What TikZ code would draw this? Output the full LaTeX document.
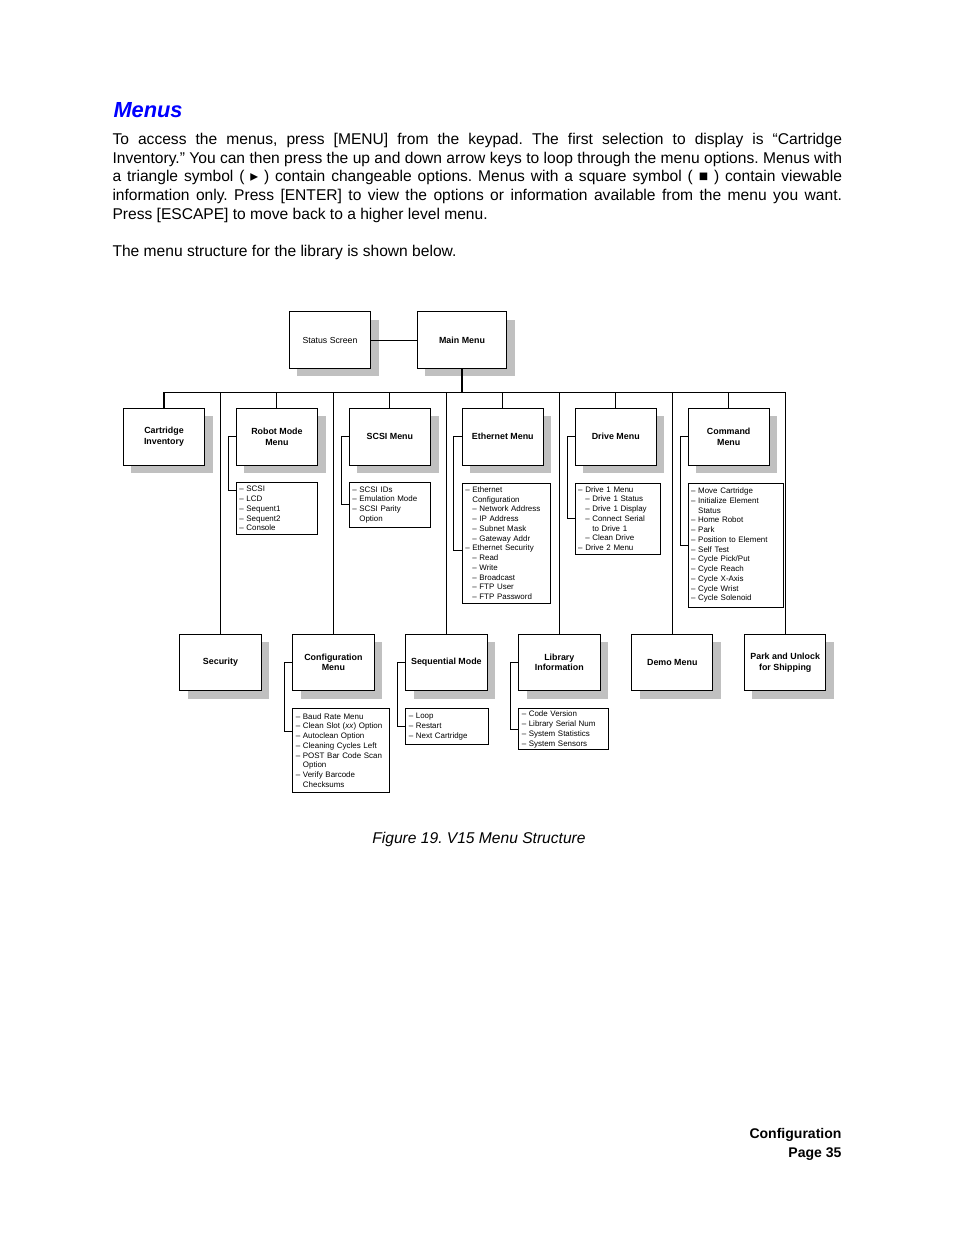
\documentclass[tikz,border=0pt]{standalone}
\usepackage{fontspec}
\setmainfont{Liberation Sans}
\newfontfamily\symfont{DejaVu Sans}
\usetikzlibrary{positioning,shadows}
\definecolor{titleblue}{RGB}{0,0,255}
\definecolor{shadowgray}{RGB}{192,192,192}
\newcommand{\optdash}{–\ }
\newcommand{\optgap}{\hphantom{–\ }}
\frenchspacing

\begin{document}
\begin{tikzpicture}[x=0.6415pt,y=-0.6415pt,
  line width=0.65pt,
  node distance=19.6pt,
  menubox/.style={draw,fill=white,minimum width=52.2pt,minimum height=36.4pt,
    align=center,inner sep=1pt,font=\fontsize{5.7}{6.8}\selectfont\bfseries,
    drop shadow={shadow xshift=5.1pt,shadow yshift=-5.1pt,opacity=1,fill=shadowgray}},
  optlist/.style={draw,fill=white,align=left,inner xsep=2pt,inner ysep=0pt,
    font=\fontsize{5.1}{6.25}\selectfont},
  pagetext/.style={inner sep=0pt,font=\fontsize{10}{12}\selectfont}
]
\useasboundingbox (0,0) rectangle (954,1235);

% page text
\node[pagetext,anchor=base west,font=\fontsize{14}{17}\selectfont\bfseries\itshape,text=titleblue] (title) at (113,117.5) {Menus};
\node[pagetext,anchor=base west,text width=468pt,align=justify] (intro) at (112,144.3) {To access the menus, press [MENU] from the keypad. The first selection to display is “Cartridge\linebreak
Inventory.” You can then press the up and down arrow keys to loop through the menu options. Menus with\linebreak
a triangle symbol ( {\symfont ▸} ) contain changeable options. Menus with a square symbol ( ■ ) contain viewable\linebreak
information only. Press [ENTER] to view the options or information available from the menu you want.\linebreak
Press [ESCAPE] to move back to a higher level menu.};
\node[pagetext,anchor=base west] (lead) at (112,256.4) {The menu structure for the library is shown below.};

% top of the tree
\node[menubox,font=\fontsize{5.6}{6.8}\selectfont] (status) at (330,340) {Status Screen};
\node[menubox,minimum width=57.4pt] (main) at (462,340) {Main Menu};

% first row
\node[menubox] (ci) at (164,436.7) {Cartridge\\Inventory};
\node[menubox,right=of ci] (robot) {Robot Mode\\Menu};
\node[menubox,right=of robot] (scsi) {SCSI Menu};
\node[menubox,right=of scsi] (eth) {Ethernet Menu};
\node[menubox,right=of eth] (drive) {Drive Menu};
\node[menubox,right=of drive] (cmd) {Command\\Menu};

% second row
\node[menubox] (sec) at (220.5,662.5) {Security};
\node[menubox,right=of sec] (conf) {Configuration\\Menu};
\node[menubox,right=of conf] (seq) {Sequential Mode};
\node[menubox,right=of seq] (lib) {Library\\Information};
\node[menubox,right=of lib] (demo) {Demo Menu};
\node[menubox,right=of demo] (park) {Park and Unlock\\for Shipping};

% option lists
\node[optlist,below=10.5pt of robot.south west,anchor=north west,text width=48.4pt,minimum height=33.6pt] (rlist) {\optdash SCSI\\\optdash LCD\\\optdash Sequent1\\\optdash Sequent2\\\optdash Console};
\node[optlist,below=10.5pt of scsi.south west,anchor=north west,text width=48.2pt,minimum height=28.7pt] (slist) {\optdash SCSI IDs\\\optdash Emulation Mode\\\optdash SCSI Parity\\\optgap Option};
\node[optlist,below=10.9pt of eth.south west,anchor=north west,text width=52.9pt,minimum height=77pt] (elist) {\optdash Ethernet\\\optgap Configuration\\\optgap\optdash Network Address\\\optgap\optdash IP Address\\\optgap\optdash Subnet Mask\\\optgap\optdash Gateway Addr\\\optdash Ethernet Security\\\optgap\optdash Read\\\optgap\optdash Write\\\optgap\optdash Broadcast\\\optgap\optdash FTP User\\\optgap\optdash FTP Password};
\node[optlist,below=10.9pt of drive.south west,anchor=north west,text width=50.7pt,minimum height=45.5pt] (dlist) {\optdash Drive 1 Menu\\\optgap\optdash Drive 1 Status\\\optgap\optdash Drive 1 Display\\\optgap\optdash Connect Serial\\\optgap\optgap to Drive 1\\\optgap\optdash Clean Drive\\\optdash Drive 2 Menu};
\node[optlist,below=10.9pt of cmd.south west,anchor=north west,text width=57.4pt,minimum height=79.7pt] (clist) {\optdash Move Cartridge\\\optdash Initialize Element\\\optgap Status\\\optdash Home Robot\\\optdash Park\\\optdash Position to Element\\\optdash Self Test\\\optdash Cycle Pick/Put\\\optdash Cycle Reach\\\optdash Cycle X-Axis\\\optdash Cycle Wrist\\\optdash Cycle Solenoid};
\node[optlist,below=10.9pt of conf.south west,anchor=north west,text width=57.8pt,minimum height=53.4pt] (flist) {\optdash Baud Rate Menu\\\optdash Clean Slot (\textit{xx}) Option\\\optdash Autoclean Option\\\optdash Cleaning Cycles Left\\\mbox{\optdash POST Bar Code Scan}\\\optgap Option\\\optdash Verify Barcode\\\optgap Checksums};
\node[optlist,below=10.9pt of seq.south west,anchor=north west,text width=49pt,minimum height=22.8pt] (qlist) {\optdash Loop\\\optdash Restart\\\optdash Next Cartridge};
\node[optlist,below=10.9pt of lib.south west,anchor=north west,text width=53.4pt,minimum height=26.3pt] (llist) {\optdash Code Version\\\optdash Library Serial Num\\\optdash System Statistics\\\optdash System Sensors};

% connectors
\coordinate (bus) at (0,392.3);
\draw (status) -- (main);
\draw (main.south) -- (main.south |- bus);
\draw (ci.north |- bus) -- (park.north |- bus);
\foreach \n in {ci,robot,scsi,eth,drive,cmd,sec,conf,seq,lib,demo,park}
  \draw (\n.north) -- (\n.north |- bus);
\draw (robot.west) -- ++(-4.8pt,0) |- ([yshift=-5.3pt]rlist.north west);
\draw (eth.west) -- ++(-5.3pt,0) |- ([yshift=-43.8pt]elist.north west);
\draw (conf.west) -- ++(-4.7pt,0) |- ([yshift=-15pt]flist.north west);
\foreach \b/\l in {scsi/slist,drive/dlist,cmd/clist,seq/qlist,lib/llist}
  \draw (\b.west) -- ++(-4.8pt,0) |- (\l.west);

% caption and footer
\node[pagetext,anchor=base,font=\fontsize{10}{12}\selectfont\itshape] (caption) at (479,843.5) {Figure 19. V15 Menu Structure};
\node[pagetext,anchor=base east,font=\fontsize{9}{12}\selectfont\bfseries] (section) at (842,1138.9) {Configuration};
\node[pagetext,anchor=base east,font=\fontsize{9}{12}\selectfont\bfseries] (page) at (842,1157.6) {Page 35};
\end{tikzpicture}
\end{document}
